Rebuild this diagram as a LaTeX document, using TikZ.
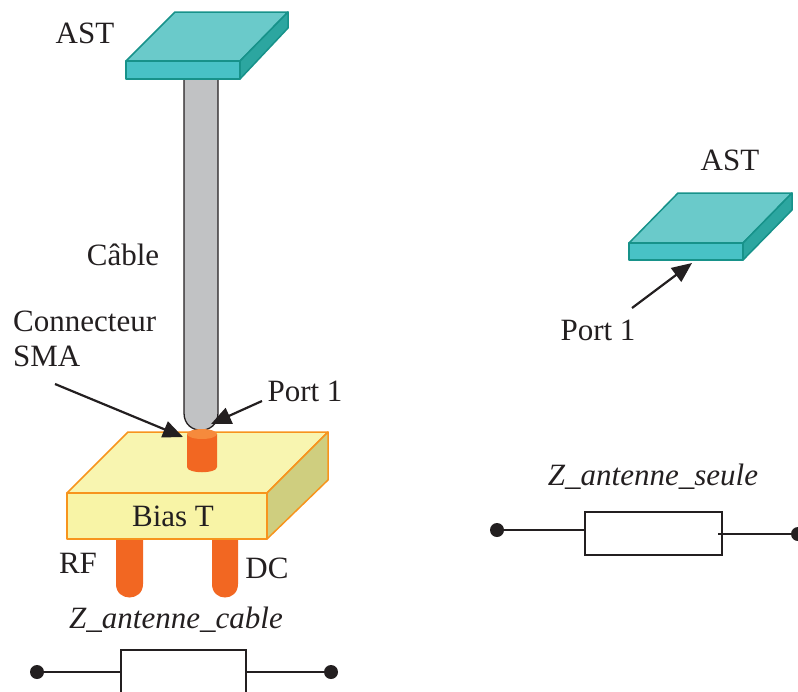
\documentclass[tikz,border=0pt]{standalone}
\usepackage{fontspec}
\setmainfont{Liberation Serif}
\usetikzlibrary{arrows.meta}
\definecolor{patchTop}{HTML}{6ACACA}
\definecolor{patchFront}{HTML}{48C2C6}
\definecolor{patchSide}{HTML}{2CA6A0}
\definecolor{patchLine}{HTML}{17928A}
\definecolor{cableGray}{HTML}{C1C2C4}
\definecolor{smaOrange}{HTML}{F26722}
\definecolor{smaLight}{HTML}{F68A3C}
\definecolor{biasTop}{HTML}{F8F5B0}
\definecolor{biasFront}{HTML}{F8F4A6}
\definecolor{biasSide}{HTML}{CFCE7F}
\definecolor{biasLine}{HTML}{F7941D}
\definecolor{ink}{HTML}{231F20}
\tikzset{
  lbl/.style={font=\fontsize{31}{35}\selectfont, text=ink, inner sep=0pt},
  ilbl/.style={lbl, font=\fontsize{31}{35}\selectfont\itshape},
  patch/.style={draw=patchLine, line width=1.5pt, line join=round},
  biasface/.style={draw=biasLine, line width=1.5pt, line join=round},
  pointer/.style={draw=ink, line width=2.2pt, -{Triangle[length=20pt,width=17pt]}, shorten >=0pt},
  wire/.style={draw=ink, line width=2.2pt},
  term/.style={circle, fill=ink, inner sep=0pt, minimum size=14pt},
  resist/.style={draw=ink, line width=1.8pt, fill=white, rectangle, inner sep=0pt}
}
\begin{document}
\begin{tikzpicture}[x=1pt, y=-1pt]
\useasboundingbox (0,0) rectangle (798,691);
\clip (0,0) rectangle (798,691);

% ---- coaxial cable ----
\draw[fill=cableGray, draw=ink, line width=1.3pt]
  (184,79) -- (184,413) .. controls (184,436) and (218,436) .. (218,413) -- (218,79);

% ---- top patch antenna ----
\fill[patchTop, patch] (126,61) -- (175,12) -- (288,12) -- (240,61) -- cycle;
\fill[patchSide, patch] (240,61) -- (288,12) -- (288,28) -- (240,79) -- cycle;
\fill[patchFront, patch] (126,61) rectangle (240,79);
\node[lbl] (astA) at (85,33) {AST};

% ---- bias tee legs ----
\fill[smaOrange] (116,530) -- (116,584) .. controls (116,602) and (143,602) .. (143,584) -- (143,530) -- cycle;
\fill[smaOrange] (212,530) -- (212,584) .. controls (212,602) and (238,602) .. (238,584) -- (238,530) -- cycle;

% ---- bias tee box ----
\fill[biasTop, biasface] (67,493) -- (128,432) -- (328,432) -- (267,493) -- cycle;
\fill[biasSide, biasface] (267,493) -- (328,432) -- (328,480) -- (267,539) -- cycle;
\fill[biasFront, biasface] (67,493) rectangle (267,539);
\node[lbl] (bias) at (173,516) {Bias T};

% ---- SMA connector ----
\fill[smaOrange] (187,434) -- (187,467) .. controls (187,474) and (217,474) .. (217,467) -- (217,434) -- cycle;
\fill[smaLight] (202,434) ellipse [x radius=15, y radius=5];

\node[lbl] (rf) at (78,563) {RF};
\node[lbl] (dc) at (267,568) {DC};
\node[lbl] (cable) at (123,255) {Câble};
\node[lbl, align=left, anchor=west] (sma) at (13,339) {Connecteur\\SMA};
\node[lbl] (portA) at (305,391) {Port 1};

\coordinate (smaTip) at (183,437);
\coordinate (smaTail) at (55,384);
\coordinate (portATip) at (211,424);
\coordinate (portATail) at (262,401);
\draw[pointer] (smaTail) -- (smaTip);
\draw[pointer] (portATail) -- (portATip);

% ---- equivalent impedance, antenna with cable ----
\node[ilbl] (zcable) at (176,620) {Z\_antenne\_cable};
\node[resist, minimum width=125pt, minimum height=70pt] (rc) at (183.5,685) {};
\node[term] (cl) at (37,672) {};
\node[term] (cr) at (331,672) {};
\draw[wire] (cl) -- (cl -| rc.west);
\draw[wire] (cr) -- (cr -| rc.east);

% ---- right patch antenna alone ----
\fill[patchTop, patch] (629,243) -- (678,193) -- (792,193) -- (743,243) -- cycle;
\fill[patchSide, patch] (743,243) -- (792,193) -- (792,210) -- (743,260) -- cycle;
\fill[patchFront, patch] (629,243) rectangle (743,260);
\node[lbl] (astB) at (730,160) {AST};
\node[lbl] (portB) at (598,330) {Port 1};
\coordinate (portBTip) at (692,263);
\coordinate (portBTail) at (632,308);
\draw[pointer] (portBTail) -- (portBTip);

% ---- equivalent impedance, antenna alone ----
\node[ilbl] (zseule) at (653,477) {Z\_antenne\_seule};
\node[resist, minimum width=137pt, minimum height=43pt] (rs) at (653.5,533.5) {};
\node[term] (sl) at (497,530) {};
\node[term] (sr) at (798,534) {};
\draw[wire] (sl) -- (sl -| rs.west);
\draw[wire] (sr) -- ([xshift=-5pt]sr -| rs.east);
\end{tikzpicture}
\end{document}
